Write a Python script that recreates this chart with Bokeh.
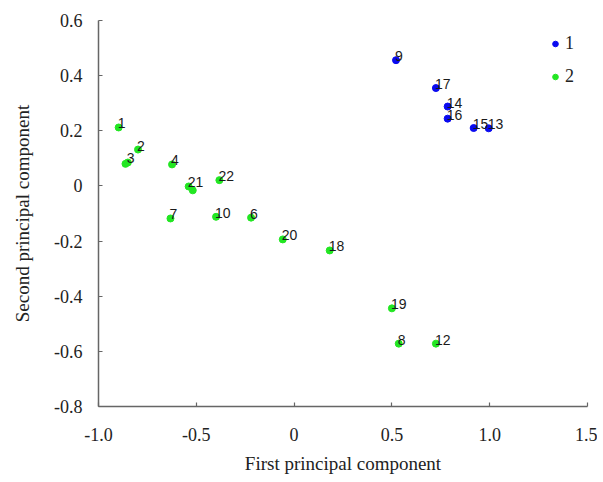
from bokeh.plotting import figure
from bokeh.models import Range1d, FixedTicker, ColumnDataSource, Legend, LegendItem
from bokeh.core.properties import value
from bokeh.embed import file_html
from bokeh.resources import INLINE

# sample ids, principal component scores, group
ids   = ["1", "2", "3", "4", "5", "6", "7", "8", "9", "10", "11",
         "12", "13", "14", "15", "16", "17", "18", "19", "20", "21", "22"]
pc1   = [-0.897, -0.798, -0.850, -0.624, -0.862, -0.220, -0.632, 0.535, 0.521, -0.399, -0.518,
         0.725, 0.995, 0.785, 0.918, 0.785, 0.725, 0.182, 0.500, -0.058, -0.539, -0.382]
pc2   = [0.212, 0.132, 0.085, 0.078, 0.080, -0.115, -0.118, -0.572, 0.456, -0.112, -0.016,
         -0.572, 0.209, 0.288, 0.210, 0.244, 0.355, -0.234, -0.444, -0.194, -0.002, 0.021]
group = ["2", "2", "2", "2", "2", "2", "2", "2", "1", "2", "2",
         "2", "1", "1", "1", "1", "1", "2", "2", "2", "2", "2"]
hidden_labels = ["5", "11"]  # labels covered by neighbouring points

x_ticks = [-1.0, -0.5, 0.0, 0.5, 1.0, 1.5]
x_tick_labels = ["-1.0", "-0.5", "0", "0.5", "1.0", "1.5"]
y_ticks = [0.6, 0.4, 0.2, 0.0, -0.2, -0.4, -0.6, -0.8]
y_tick_labels = ["0.6", "0.4", "0.2", "0", "-0.2", "-0.4", "-0.6", "-0.8"]

colors = {"1": "#0a0af0", "2": "#22e622"}

p = figure(frame_width=489, frame_height=386, output_backend="svg", toolbar_location=None,
           x_range=Range1d(-1.0, 1.5), y_range=Range1d(-0.8, 0.6),
           min_border_left=98, min_border_top=20, min_border_bottom=72, min_border_right=10)
p.outline_line_color = None
p.xgrid.visible = False
p.ygrid.visible = False

renderers = {}
for g in ["1", "2"]:
    xs = [x for x, gg in zip(pc1, group) if gg == g]
    ys = [y for y, gg in zip(pc2, group) if gg == g]
    src = ColumnDataSource(dict(x=xs, y=ys))
    renderers[g] = p.scatter("x", "y", source=src, size=7, fill_color=colors[g],
                             line_color=colors[g])

lab = [(x, y, t) for x, y, t in zip(pc1, pc2, ids) if t not in hidden_labels]
lsrc = ColumnDataSource(dict(x=[a[0] for a in lab], y=[a[1] for a in lab], t=[a[2] for a in lab]))
p.text("x", "y", text="t", source=lsrc, text_font=value("Liberation Sans"),
       text_font_size="14px", text_color="#1a1a1a", x_offset=-1, y_offset=-4,
       text_baseline="alphabetic", text_align="left")

legend = Legend(items=[LegendItem(label="1", renderers=[renderers["1"]]),
                       LegendItem(label="2", renderers=[renderers["2"]])],
                location="top_right", border_line_alpha=0, background_fill_alpha=0,
                margin=8, padding=5, glyph_width=14, glyph_height=21, label_height=21,
                label_width=8, label_standoff=3, spacing=12,
                label_text_font="Liberation Serif", label_text_font_size="18px",
                label_text_color="#222222")
p.add_layout(legend)

serif = "Liberation Serif"
for ax in (p.xaxis[0], p.yaxis[0]):
    ax.axis_line_color = "#666666"
    ax.axis_line_width = 1.5
    ax.major_tick_line_color = "#666666"
    ax.major_tick_line_width = 1.2
    ax.major_tick_in = 4
    ax.major_tick_out = 0
    ax.minor_tick_line_color = None
    ax.major_label_text_font = serif
    ax.major_label_text_font_size = "18px"
    ax.major_label_text_color = "#222222"
    ax.axis_label_text_font = serif
    ax.axis_label_text_font_size = "19px"
    ax.axis_label_text_font_style = "normal"
    ax.axis_label_text_color = "#222222"

p.xaxis.ticker = FixedTicker(ticks=x_ticks)
p.xaxis.major_label_overrides = dict(zip(x_ticks, x_tick_labels))
p.yaxis.ticker = FixedTicker(ticks=y_ticks)
p.yaxis.major_label_overrides = dict(zip(y_ticks, y_tick_labels))
p.xaxis.axis_label = "First principal component"
p.yaxis.axis_label = "Second principal component"
p.xaxis.major_label_standoff = 21
p.xaxis.axis_label_standoff = 9
p.yaxis.major_label_standoff = 16
p.yaxis.axis_label_standoff = 18

open("out.html", "w").write(file_html(p, INLINE))
